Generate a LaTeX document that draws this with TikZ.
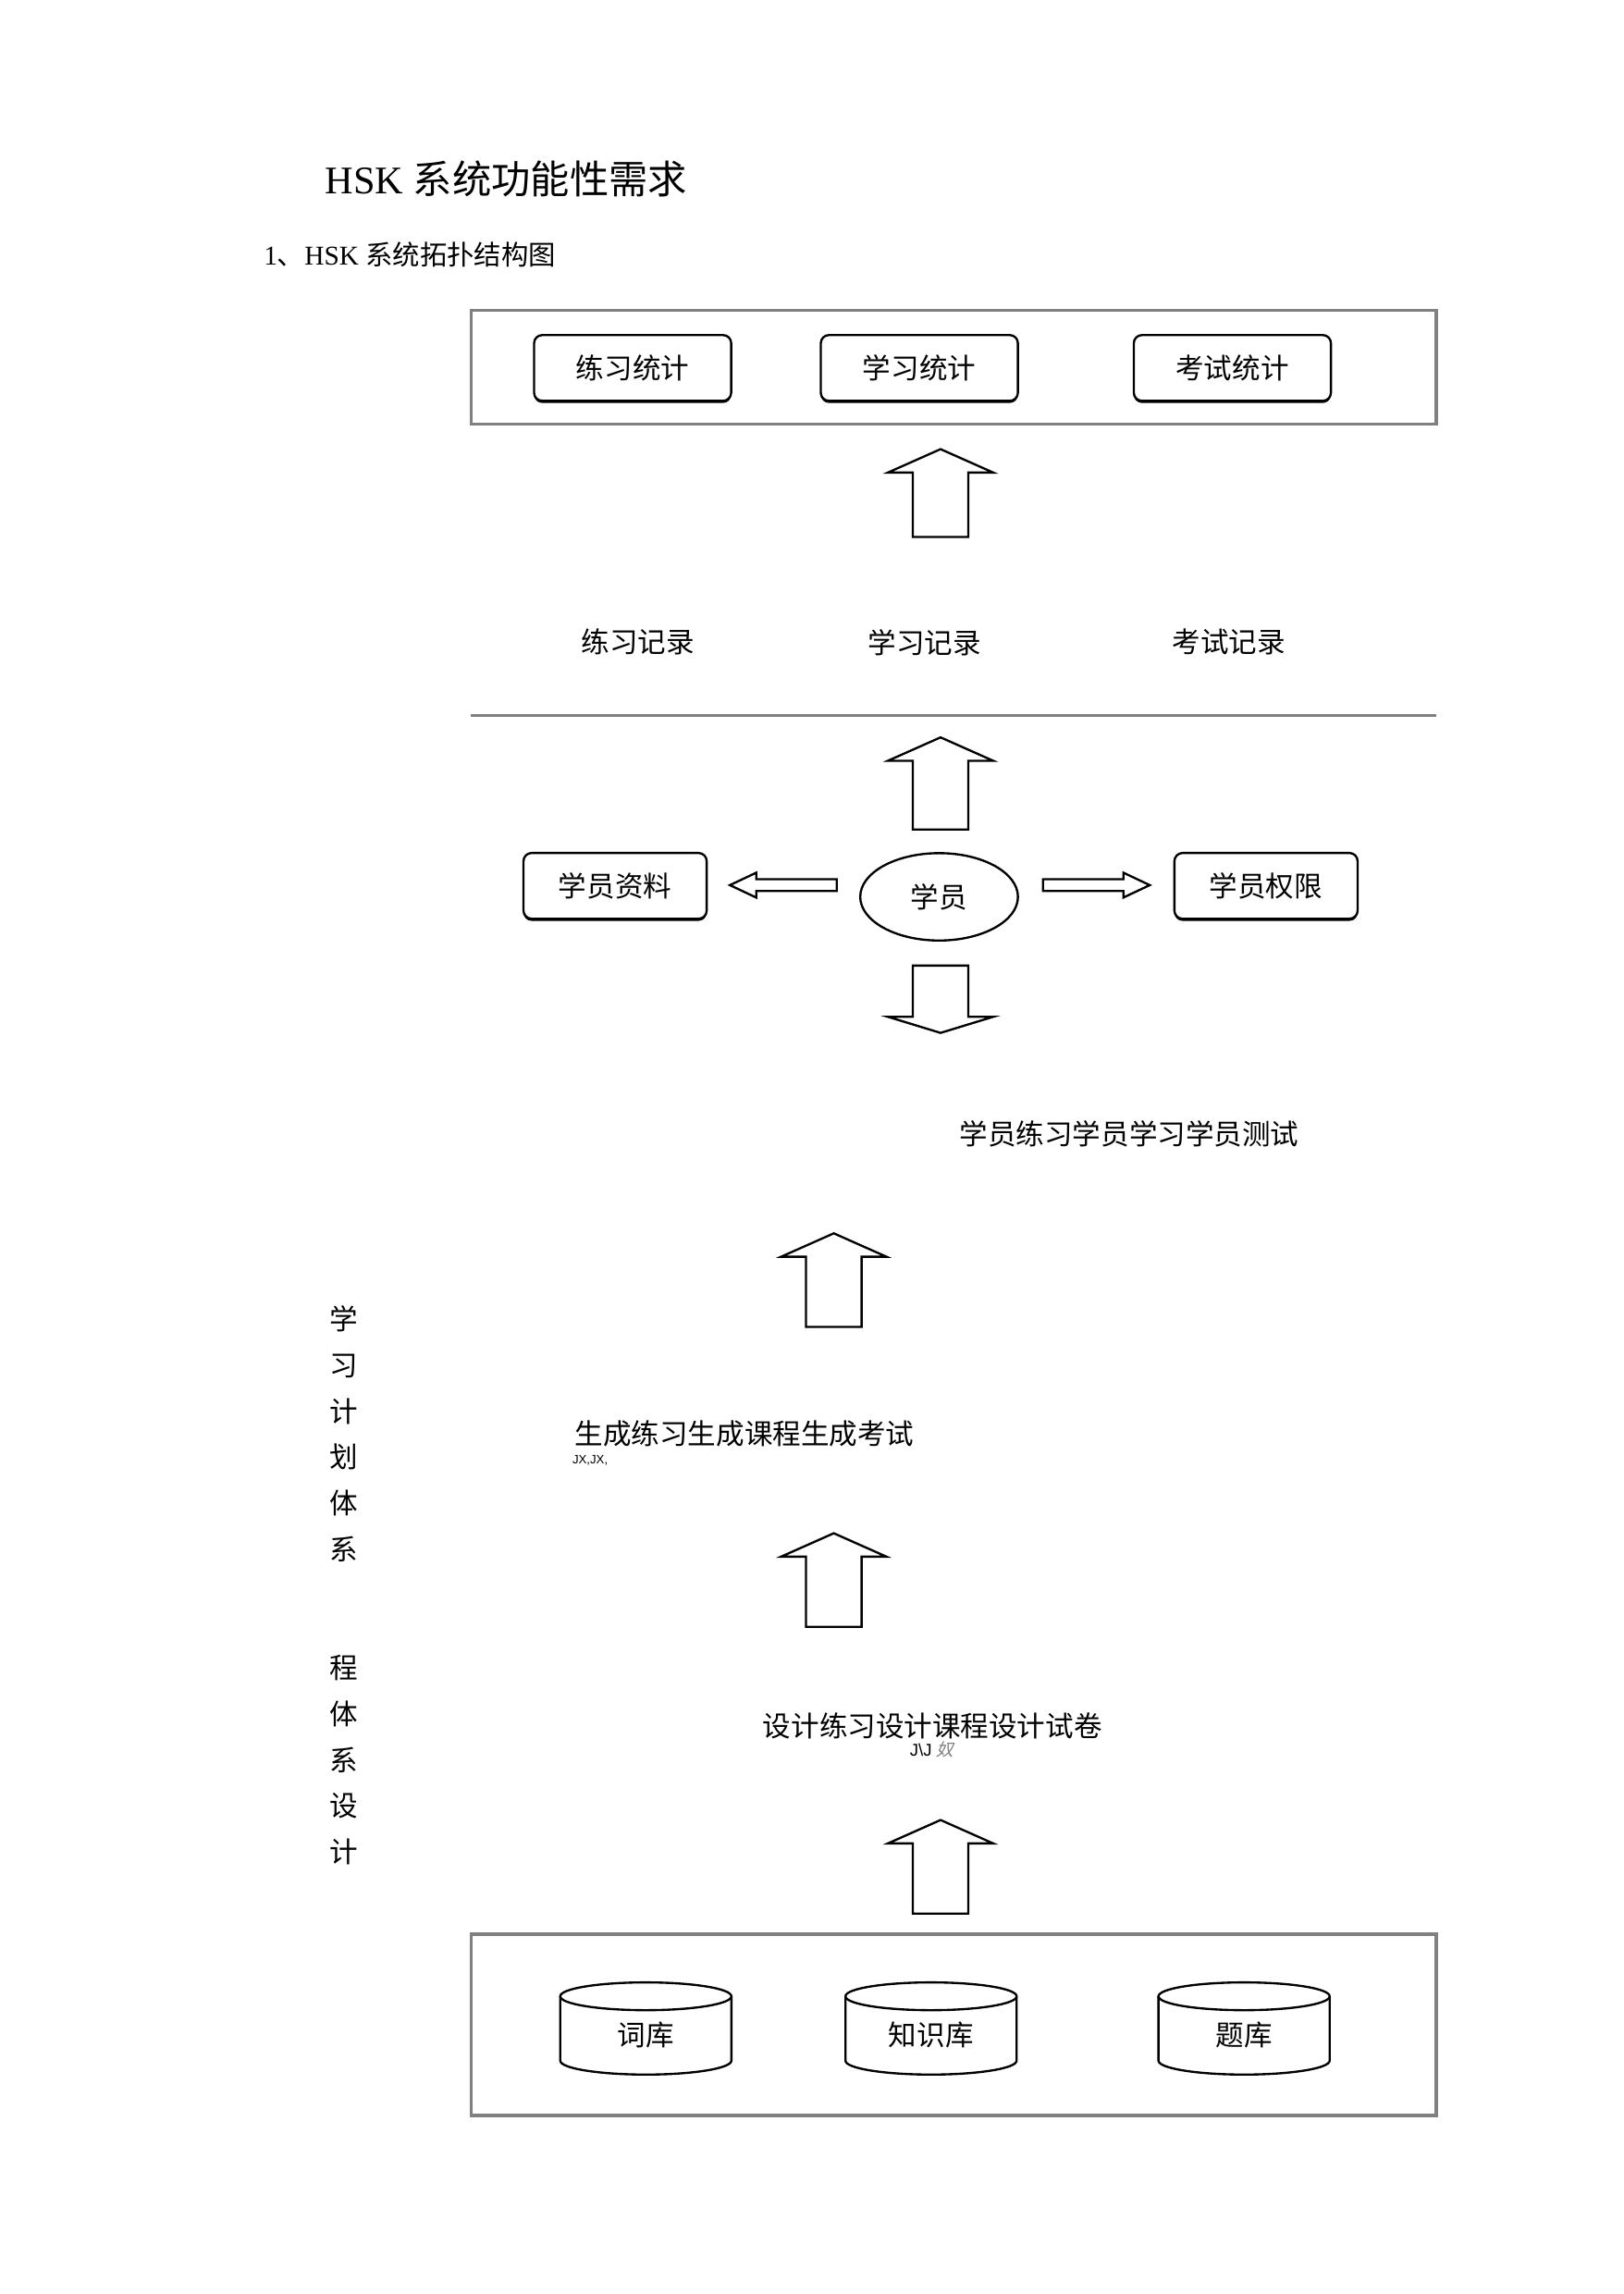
\documentclass[tikz,border=0pt]{standalone}
\usepackage{fontspec}
\setmainfont{Liberation Serif}
\newfontfamily\cjk{Noto Sans CJK SC}
\newfontfamily\cjkslant[FakeSlant=0.25]{Noto Sans CJK SC}
\newfontfamily\latinsans{Liberation Sans}
\usetikzlibrary{shapes.geometric,shadows}

\tikzset{
  frame/.style={draw=gray, line width=1.2pt},
  statbox/.style={draw, thick, fill=white, rounded corners=3pt,
    minimum width=2.55cm, minimum height=0.85cm, font=\cjk\fontsize{10.4}{12}\selectfont,
    drop shadow={shadow xshift=0pt, shadow yshift=-0.8pt, opacity=1, fill=black}},
  infobox/.style={statbox, minimum width=2.37cm},
  label/.style={font=\cjk\fontsize{10.4}{12}\selectfont},
  sidetext/.style={font=\cjk\fontsize{10.4}{16.9}\selectfont, align=center},
  blockarrow/.style={draw, thick, fill=white},
  pics/fatarrow/.style args={#1/#2/#3/#4}{code={
    \draw[blockarrow] (-#3,0) -- (-#3,#2-#1) -- (-#4,#2-#1) -- (0,-#1)
      -- (#4,#2-#1) -- (#3,#2-#1) -- (#3,0) -- cycle;}},
  pics/datastore/.style={code={
    \draw[blockarrow] (-58.5,-22) -- (-58.5,22)
      arc[start angle=180, end angle=0, x radius=58.5, y radius=9.5] -- (58.5,-22);
    \draw[blockarrow] (0,-22) ellipse[x radius=58.5, y radius=9.5];}}
}

\begin{document}
\begin{tikzpicture}[x=0.01892cm, y=-0.01892cm, inner sep=0pt]
  \useasboundingbox (0,0) rectangle (1110,1568);

  % headings
  \node[anchor=west, font=\fontsize{14.4}{16}\selectfont] (title) at (222,122) {HSK {\cjk 系统功能性需求}};
  \node[anchor=west, font=\fontsize{10}{12}\selectfont] (subtitle) at (180,174) {1{\cjk 、}HSK {\cjk 系统拓扑结构图}};

  % statistics layer
  \draw[frame] (322,212) rectangle (982,290);
  \node[statbox] (prstat) at (432.5,251.5) {练习统计};
  \node[statbox] (lnstat) at (628.5,251.5) {学习统计};
  \node[statbox] (exstat) at (842.5,251.5) {考试统计};

  \pic (up1) at (643,367) {fatarrow=60/16/19/36};

  % records
  \node[label] (prrec) at (436,439) {练习记录};
  \node[label] (lnrec) at (632,439) {学习记录};
  \node[label] (exrec) at (840,439) {考试记录};
  \draw[frame] (322,489) -- (982,489);

  \pic (up2) at (643,567) {fatarrow=63/16/19/36};

  % student
  \node[infobox] (profile) at (420.5,605.5) {学员资料};
  \node[ellipse, draw, thick, fill=white, minimum width=2.04cm, minimum height=1.13cm,
    font=\cjk\fontsize{10.4}{12}\selectfont] (student) at (642,613) {学员};
  \node[infobox] (rights) at (865.5,605.5) {学员权限};
  \pic[rotate=90] (left) at (572,605) {fatarrow=73/18/4/8.5};
  \pic[rotate=-90] (right) at (713,605) {fatarrow=73/18/4/8.5};
  \pic[rotate=180] (down) at (643,660) {fatarrow=46/11/19/36};

  \node[label] (actions) at (772,775) {学员练习学员学习学员测试};

  \pic (up3) at (570,907) {fatarrow=64/16/19/36};

  % side captions
  \node[sidetext] (plan) at (235,980) {学\\习\\计\\划\\体\\系};
  \node[sidetext] (course) at (235,1203) {程\\体\\系\\设\\计};

  \node[label] (generate) at (509,980) {生成练习生成课程生成考试};
  \node[anchor=west, font=\latinsans\fontsize{4.5}{5}\selectfont] (gennote) at (391,998) {JX,JX,};

  \pic (up4) at (570,1112) {fatarrow=64/16/19/36};

  \node[label] (design) at (637.5,1180) {设计练习设计课程设计试卷};
  \node[font=\latinsans\fontsize{6.3}{7}\selectfont] (desnote) at (637,1196)
    {J\textbackslash J {\cjkslant\color{gray}奴}};

  \pic (up5) at (643,1308) {fatarrow=64/16/19/36};

  % data layer
  \draw[frame] (322,1322) rectangle (982,1446);
  \pic (wordsdb) at (441.5,1386.5) {datastore};
  \pic (knowdb) at (636.5,1386.5) {datastore};
  \pic (quesdb) at (850.5,1386.5) {datastore};
  \node[label] (words) at (441.5,1391) {词库};
  \node[label] (knowledge) at (636.5,1391) {知识库};
  \node[label] (questions) at (850.5,1391) {题库};
\end{tikzpicture}
\end{document}
